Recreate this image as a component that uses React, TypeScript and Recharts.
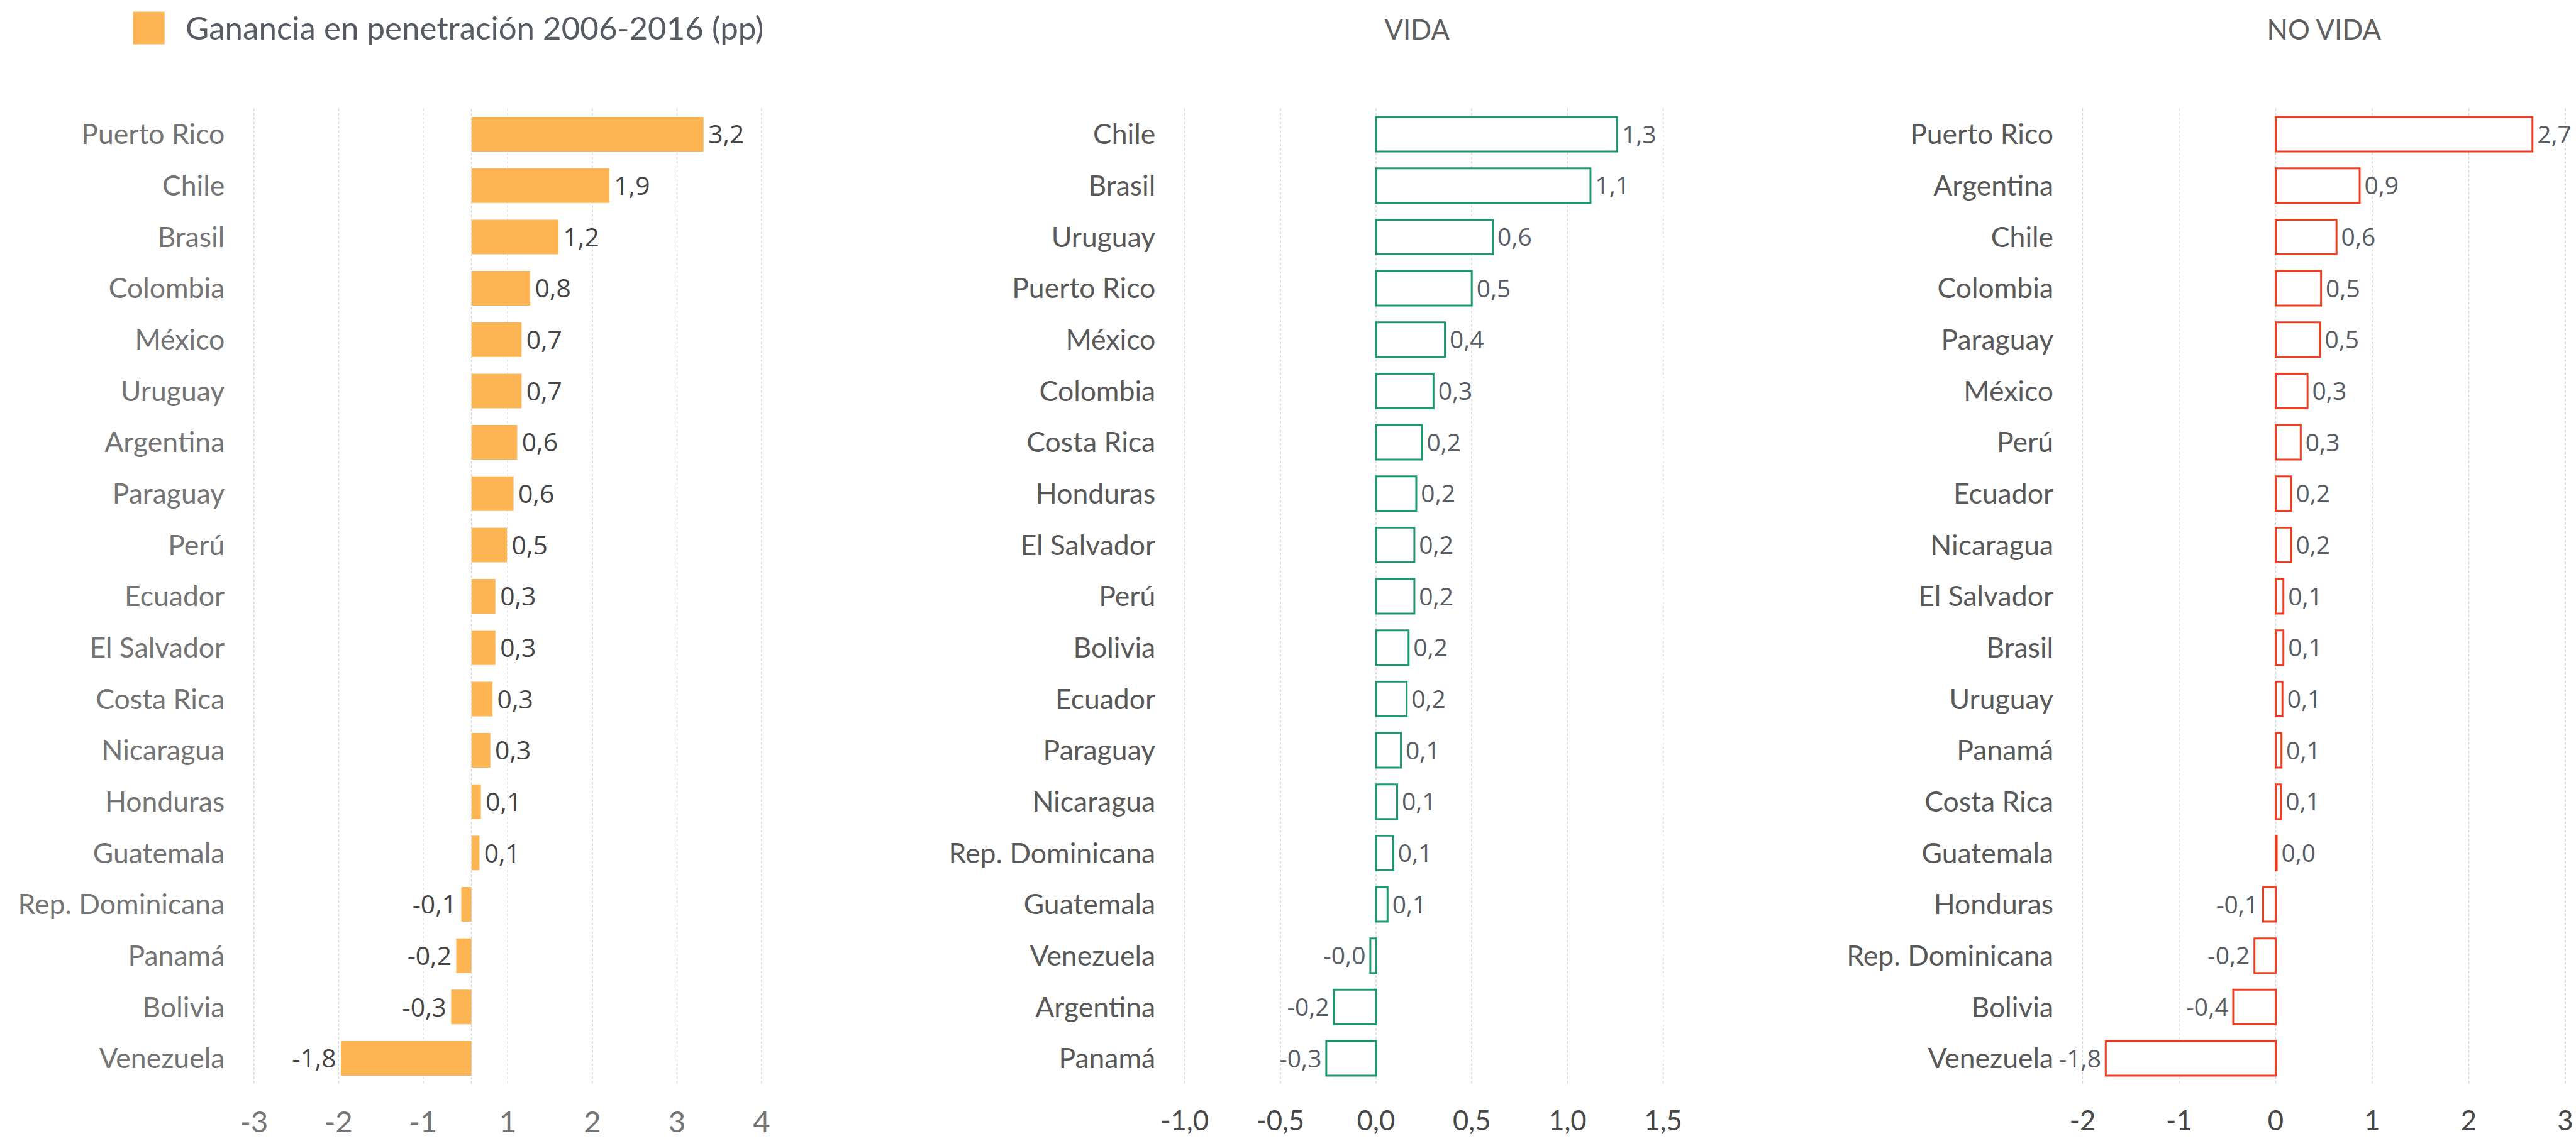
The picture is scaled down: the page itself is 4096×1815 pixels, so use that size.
import React from "react";
import { BarChart, Bar, XAxis, YAxis, CartesianGrid, LabelList, ReferenceLine } from "recharts";

// everything is measured on the 4410px reference and scaled down
const K = 0.928;
const k = (v: number) => Math.round(v * K * 100) / 100;

const TOTAL_COUNTRIES = ["Puerto Rico", "Chile", "Brasil", "Colombia", "México", "Uruguay", "Argentina", "Paraguay", "Perú", "Ecuador", "El Salvador", "Costa Rica", "Nicaragua", "Honduras", "Guatemala", "Rep. Dominicana", "Panamá", "Bolivia", "Venezuela"];
const TOTAL_VALUES = [3.2, 1.9, 1.2, 0.81, 0.69, 0.69, 0.63, 0.58, 0.49, 0.33, 0.33, 0.29, 0.26, 0.13, 0.11, -0.14, -0.21, -0.28, -1.8];
// the original axis spreads these 7 labels evenly over [-3, 4]
const TOTAL_TICKS = ["-3", "-2", "-1", "1", "2", "3", "4"];
const TOTAL_DOMAIN = [-3, 4];

const VIDA_COUNTRIES = ["Chile", "Brasil", "Uruguay", "Puerto Rico", "México", "Colombia", "Costa Rica", "Honduras", "El Salvador", "Perú", "Bolivia", "Ecuador", "Paraguay", "Nicaragua", "Rep. Dominicana", "Guatemala", "Venezuela", "Argentina", "Panamá"];
const VIDA_VALUES = [1.26, 1.12, 0.61, 0.5, 0.36, 0.3, 0.24, 0.21, 0.2, 0.2, 0.17, 0.16, 0.13, 0.11, 0.09, 0.06, -0.03, -0.22, -0.26];
const VIDA_TICKS = [-1, -0.5, 0, 0.5, 1, 1.5];

const NOVIDA_COUNTRIES = ["Puerto Rico", "Argentina", "Chile", "Colombia", "Paraguay", "México", "Perú", "Ecuador", "Nicaragua", "El Salvador", "Brasil", "Uruguay", "Panamá", "Costa Rica", "Guatemala", "Honduras", "Rep. Dominicana", "Bolivia", "Venezuela"];
const NOVIDA_VALUES = [2.66, 0.87, 0.63, 0.47, 0.46, 0.33, 0.26, 0.16, 0.16, 0.08, 0.08, 0.07, 0.06, 0.055, 0.01, -0.13, -0.22, -0.44, -1.76];
const NOVIDA_TICKS = [-2, -1, 0, 1, 2, 3];

const toRows = (names: string[], vals: number[]) => names.map((country, i) => ({ country, value: vals[i] }));
const totalData = toRows(TOTAL_COUNTRIES, TOTAL_VALUES);
const vidaData = toRows(VIDA_COUNTRIES, VIDA_VALUES);
const noVidaData = toRows(NOVIDA_COUNTRIES, NOVIDA_VALUES);

const totalTickPos = TOTAL_TICKS.map(
  (_, i) => TOTAL_DOMAIN[0] + (i * (TOTAL_DOMAIN[1] - TOTAL_DOMAIN[0])) / (TOTAL_TICKS.length - 1)
);
const totalTickFmt = (v: number) => {
  const i = totalTickPos.findIndex((p) => Math.abs(p - v) < 1e-6);
  return i >= 0 ? TOTAL_TICKS[i] : "";
};

const fmt = (v: number) => v.toFixed(1).replace(".", ",");
const FONT = "Lato, 'Open Sans', sans-serif";
const GRID = "#d2d2d2";
const DASH = "4 3";
const GAP = "16.5%";

const makeLabel = (color: string, size: number) => (props: any) => {
  const { x, y, width, height, value } = props;
  const v = Number(value);
  const left = Math.min(x, x + width);
  const right = Math.max(x, x + width);
  const gap = k(8);
  return (
    <text
      x={v < 0 ? left - gap : right + gap}
      y={y + height / 2}
      dy="0.36em"
      textAnchor={v < 0 ? "end" : "start"}
      fill={color}
      fontSize={size}
      fontFamily="'Open Sans', sans-serif"
    >
      {fmt(v)}
    </text>
  );
};

const TOP = 186;
const AXIS_H = 96;

function TotalPanel() {
  return (
    <BarChart
      layout="vertical"
      width={k(1400)}
      height={k(1954)}
      data={totalData}
      margin={{ top: k(TOP), right: k(95), bottom: 0, left: 0 }}
      barCategoryGap={GAP}
    >
      <CartesianGrid horizontal={false} stroke={GRID} strokeDasharray={DASH} strokeWidth={1.4} />
      <XAxis
        type="number"
        domain={TOTAL_DOMAIN}
        allowDataOverflow
        ticks={totalTickPos}
        tickFormatter={totalTickFmt}
        interval={0}
        axisLine={false}
        tickLine={false}
        tickSize={0}
        tickMargin={k(47)}
        height={k(AXIS_H)}
        tick={{ fill: "#747474", fontSize: k(51), fontFamily: FONT }}
      />
      <YAxis
        type="category"
        dataKey="country"
        width={k(435)}
        interval={0}
        axisLine={false}
        tickLine={false}
        tickSize={0}
        tickMargin={k(50)}
        tick={{ fill: "#747474", fontSize: k(48), fontFamily: FONT }}
      />
      <ReferenceLine x={0} stroke={GRID} strokeDasharray={DASH} strokeWidth={1.4} />
      <Bar dataKey="value" fill="#FDB553" isAnimationActive={false}>
        <LabelList dataKey="value" content={makeLabel("#454545", k(44))} />
      </Bar>
    </BarChart>
  );
}

function OutlinePanel({ data, ticks, color, yWidth, width, right, tickFmt }: any) {
  return (
    <BarChart
      layout="vertical"
      width={k(width)}
      height={k(1954)}
      data={data}
      margin={{ top: k(TOP), right: k(right), bottom: 0, left: 0 }}
      barCategoryGap={GAP}
    >
      <CartesianGrid horizontal={false} stroke={GRID} strokeDasharray={DASH} strokeWidth={1.4} />
      <XAxis
        type="number"
        domain={[ticks[0], ticks[ticks.length - 1]]}
        ticks={ticks}
        allowDataOverflow
        tickFormatter={tickFmt}
        axisLine={false}
        tickLine={false}
        tickSize={0}
        tickMargin={k(46)}
        height={k(AXIS_H)}
        tick={{ fill: "#474747", fontSize: k(47), fontFamily: FONT }}
      />
      <YAxis
        type="category"
        dataKey="country"
        width={k(yWidth)}
        interval={0}
        axisLine={false}
        tickLine={false}
        tickSize={0}
        tickMargin={k(50)}
        tick={{ fill: "#595959", fontSize: k(48), fontFamily: FONT }}
      />
      <Bar dataKey="value" fill="#ffffff" stroke={color} strokeWidth={k(3.2)} isAnimationActive={false}>
        <LabelList dataKey="value" content={makeLabel("#585d66", k(42))} />
      </Bar>
    </BarChart>
  );
}

export default function App() {
  return (
    <div style={{ position: "absolute", left: 0, top: 0, width: 4096, height: 1815, background: "#fff", overflow: "hidden" }}>
      <svg width={4096} height={1815} style={{ position: "absolute", left: 0, top: 0 }}>
        <rect x={k(228)} y={k(20)} width={k(54)} height={k(56)} fill="#FDB553" />
        <text x={k(318)} y={k(68)} fontSize={k(55)} fontFamily={FONT} fill="#565b63">
          Ganancia en penetración 2006-2016 (pp)
        </text>
        <text x={k(2428)} y={k(68)} fontSize={k(47)} fontFamily={FONT} fill="#5f5f5f" textAnchor="middle">
          VIDA
        </text>
        <text x={k(3982)} y={k(68)} fontSize={k(47)} fontFamily={FONT} fill="#5f5f5f" textAnchor="middle">
          NO VIDA
        </text>
      </svg>
      <div style={{ position: "absolute", left: 0, top: 0 }}>
        <TotalPanel />
      </div>
      <div style={{ position: "absolute", left: k(1400), top: 0 }}>
        <OutlinePanel data={vidaData} ticks={VIDA_TICKS} color="#1b9a6e" yWidth={630} width={1550} right={100} tickFmt={fmt} />
      </div>
      <div style={{ position: "absolute", left: k(2950), top: 0 }}>
        <OutlinePanel data={noVidaData} ticks={NOVIDA_TICKS} color="#f03c1f" yWidth={618} width={1460} right={15} tickFmt={(v: number) => String(v)} />
      </div>
    </div>
  );
}
